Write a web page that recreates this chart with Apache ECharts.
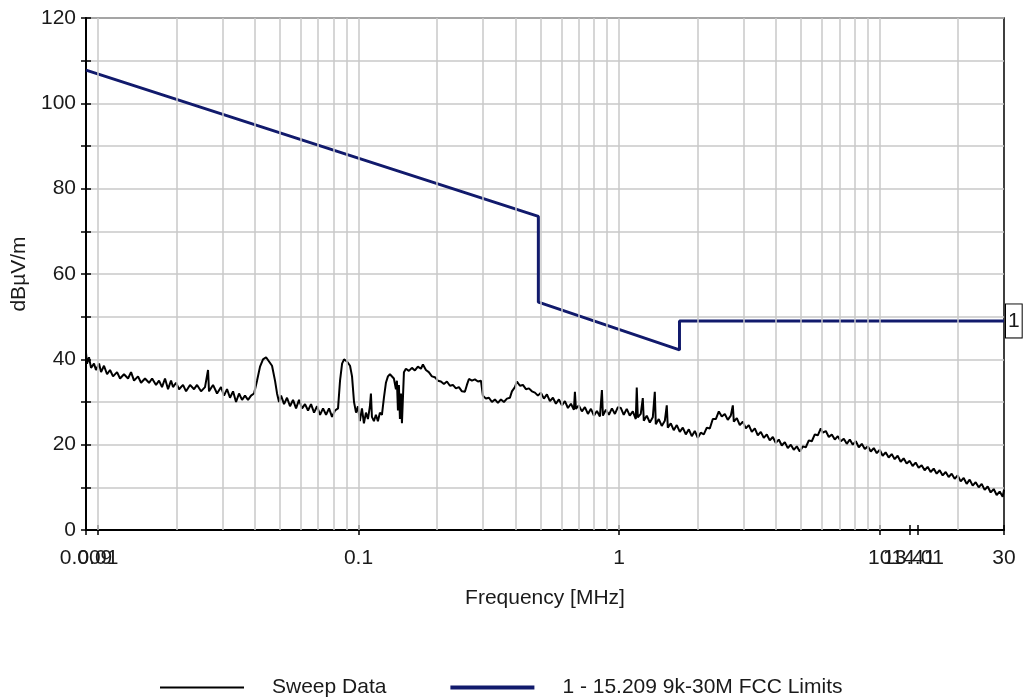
<!DOCTYPE html>
<html>
<head>
<meta charset="utf-8">
<script src="https://cdn.jsdelivr.net/npm/echarts@6/dist/echarts.min.js"></script>
<style>
  html, body { margin: 0; padding: 0; background: #fff; }
  #chart { width: 1029px; height: 698px; }
</style>
</head>
<body>
<div id="chart"></div>
<script>
// sweep trace (MHz / dBuV/m)
const sweepFreq = [
  0.0090, 0.00908, 0.00924, 0.00941, 0.00966, 0.00983, 0.0101, 0.01028, 0.01055, 0.01084,
  0.01113, 0.01143, 0.01184, 0.01216, 0.01259, 0.01305, 0.0134, 0.01376, 0.01425, 0.01464,
  0.01516, 0.01571, 0.01614, 0.01671, 0.01716, 0.01762, 0.01809, 0.01858, 0.01908, 0.01942,
  0.01994, 0.02048, 0.02121, 0.02179, 0.02257, 0.02338, 0.02401, 0.02487, 0.02576, 0.02646,
  0.02669, 0.02765, 0.02865, 0.02968, 0.03048, 0.03129, 0.03213, 0.033, 0.03389, 0.0348,
  0.03574, 0.03668, 0.03767, 0.03869, 0.03973, 0.04079, 0.04189, 0.04301, 0.04418, 0.04536,
  0.04657, 0.04782, 0.04868, 0.04955, 0.05044, 0.05179, 0.05317, 0.0546, 0.05607, 0.05759,
  0.05913, 0.06074, 0.06233, 0.06402, 0.06574, 0.06751, 0.06932, 0.07118, 0.07309, 0.07507,
  0.07707, 0.07914, 0.08126, 0.08345, 0.08494, 0.08649, 0.088, 0.09036, 0.09278, 0.09444,
  0.09612, 0.09785, 0.0995,
  0.1012, 0.1031, 0.1049, 0.1068, 0.1087, 0.1106, 0.1116, 0.1126,
  0.1146, 0.1166, 0.1187, 0.1208, 0.123, 0.1252, 0.1274, 0.1297, 0.132, 0.1343,
  0.1367, 0.1392, 0.1404, 0.1417, 0.1429, 0.1442, 0.1455, 0.1468, 0.1481, 0.1494,
  0.152, 0.1561, 0.1603, 0.1646, 0.169, 0.1736, 0.1767, 0.1814, 0.1861, 0.1913,
  0.1964, 0.2017, 0.2071, 0.2127, 0.2184, 0.2243, 0.2303, 0.2365, 0.2428, 0.2494,
  0.256, 0.2606, 0.2653, 0.2724, 0.2797, 0.2873, 0.295, 0.3002, 0.3083, 0.3166,
  0.3251, 0.3338, 0.3428, 0.352, 0.3614, 0.3712, 0.3811, 0.3879, 0.3983, 0.4054,
  0.4163, 0.4275, 0.439, 0.4508, 0.4629, 0.4753, 0.4881, 0.5012, 0.5147, 0.5285,
  0.5427, 0.5573, 0.5722, 0.5876, 0.6034, 0.6195, 0.6363, 0.6534, 0.6709, 0.6768,
  0.6828, 0.7006, 0.72, 0.7393, 0.7593, 0.7797, 0.8006, 0.8221, 0.8442, 0.8592,
  0.8669, 0.8901, 0.914, 0.9386, 0.9637, 0.9897,
  1.015, 1.042, 1.07, 1.099, 1.129, 1.159, 1.169, 1.18, 1.211, 1.233,
  1.244, 1.277, 1.312, 1.347, 1.371, 1.383, 1.42, 1.458, 1.498, 1.524,
  1.538, 1.579, 1.621, 1.665, 1.71, 1.756, 1.803, 1.852, 1.901, 1.952,
  2.005, 2.058, 2.114, 2.171, 2.229, 2.289, 2.351, 2.414, 2.478, 2.545,
  2.613, 2.683, 2.732, 2.756, 2.83, 2.906, 2.984, 3.064, 3.146, 3.231,
  3.318, 3.407, 3.498, 3.592, 3.688, 3.787, 3.89, 3.994, 4.101, 4.211,
  4.325, 4.441, 4.56, 4.682, 4.808, 4.937, 5.071, 5.207, 5.347, 5.49,
  5.638, 5.789, 5.944, 6.05, 6.213, 6.38, 6.551, 6.727, 6.908, 7.093,
  7.283, 7.479, 7.68, 7.887, 8.099, 8.316, 8.539, 8.77, 9.005, 9.245,
  9.494, 9.749,
  10.0, 10.27, 10.54, 10.83, 11.12, 11.42, 11.72, 12.04, 12.36, 12.69,
  13.04, 13.38, 13.74, 14.11, 14.49, 14.88, 15.28, 15.69, 16.12, 16.55,
  16.99, 17.45, 17.92, 18.4, 18.89, 19.4, 19.92, 20.46, 21.01, 21.57,
  22.15, 22.75, 23.36, 23.99, 24.63, 25.29, 25.97, 26.67, 27.39, 28.12,
  28.88, 29.65, 30
];
const sweepLevel = [
  41.5, 39, 40.5, 38, 39, 37.5, 39, 37, 38.5, 36.5,
  37.5, 36, 37, 35.5, 36.5, 35.5, 37, 35, 36, 34.5,
  35.5, 34.5, 35.5, 34, 35, 33.5, 35.5, 33, 35, 33.5,
  34.5, 33, 34, 32.5, 34, 33, 34, 32.5, 33.5, 37.5,
  32.5, 34, 32, 33.5, 31.5, 33, 31, 32.5, 30, 32,
  30.5, 31.5, 30.5, 31.5, 32, 35, 38.3, 40, 40.5, 39.5,
  38.5, 35, 32, 30, 31.5, 29.5, 31, 29, 30.5, 28.5,
  30.5, 28.5, 29.5, 28, 29.5, 27.5, 29, 27, 28.5, 27,
  28.5, 26.5, 28, 28.5, 35, 39, 40, 39.5, 38.5, 36,
  30, 27.5, 29,
  25.5, 28.5, 25, 27.5, 26, 29, 32, 26.5,
  25.5, 27, 25.5, 27.5, 27, 31, 34.5, 36, 36.5, 36.8,
  35.5, 33, 35, 28, 34, 26, 32, 25, 24.6, 37,
  37.8, 37.3, 38, 37.4, 38.3, 37.8, 38.8, 37.5, 37, 36,
  35.8, 35, 34.8, 34.2, 34.8, 33.8, 34, 33.2, 33.5, 32.5,
  32.4, 34, 35.4, 35, 35.3, 34.8, 35, 31.5, 30.8, 31,
  30, 30.6, 29.8, 30.6, 30, 30.8, 31, 32.5, 33.5, 34.8,
  33.8, 34, 33, 33.2, 32.5, 32.2, 31.5, 32.2, 30.8, 31.8,
  30.2, 31, 29.6, 30.6, 29.2, 30.2, 28.6, 29.6, 28.2, 32.4,
  28.4, 29.2, 27.8, 28.8, 27.2, 28.4, 26.8, 27.9, 26.6, 32.8,
  26.8, 28.2, 27, 28.5, 27.2, 28.8,
  28.6, 27.0, 28.4, 26.8, 27.8, 26.0, 33.4, 26.4, 27.2, 30.9,
  25.6, 26.8, 25.2, 26.4, 32.4, 24.8, 26.0, 24.4, 25.6, 29.2,
  24.0, 25.0, 23.4, 24.6, 23.0, 24.0, 22.4, 23.6, 22.0, 23.2,
  21.6, 22.8, 22.4, 24.0, 23.8, 26.0, 26.0, 27.8, 26.6, 27.2,
  25.8, 26.8, 29.2, 25.4, 26.2, 24.6, 25.4, 23.8, 24.6, 23.0,
  23.8, 22.2, 23.0, 21.6, 22.4, 21.0, 21.8, 20.4, 21.2, 19.8,
  20.6, 19.2, 20.0, 18.8, 19.6, 18.4, 19.6, 19.4, 21.0, 20.8,
  22.4, 22.2, 23.8, 22.8, 23.2, 21.8, 22.4, 21.2, 22.0, 20.8,
  21.4, 20.2, 21.2, 20.0, 20.8, 19.4, 20.2, 19.0, 19.6, 18.4,
  19.2, 18.0,
  18.8, 17.4, 18.2, 17.0, 17.8, 16.6, 17.4, 16.0, 16.8, 15.6,
  16.2, 15.0, 15.8, 14.6, 15.2, 14.0, 14.8, 13.6, 14.4, 13.2,
  14.0, 12.8, 13.6, 12.4, 13.2, 12.0, 12.8, 11.4, 12.2, 10.8,
  11.8, 10.4, 11.2, 10.0, 10.8, 9.4, 10.2, 8.8, 9.6, 8.2,
  9.0, 7.8, 9.4
];

// FCC 15.209 limit line corners
const limitFreq = [0.009, 0.49, 0.49, 1.705, 1.705, 30];
const limitLevel = [107.8, 73.5, 53.4, 42.2, 49, 49];

// vertical grid lines (1..9 per decade)
const gridFreq = [
  0.01, 0.02, 0.03, 0.04, 0.05, 0.06, 0.07, 0.08, 0.09,
  0.1, 0.2, 0.3, 0.4, 0.5, 0.6, 0.7, 0.8, 0.9,
  1, 2, 3, 4, 5, 6, 7, 8, 9,
  10, 20
];

// x ticks and their labels
const tickFreq = [0.009, 0.01, 0.1, 1, 10, 13, 14, 30];
const tickText = ['0.009', '0.01', '0.1', '1', '10', '13.41', '14.01', '30'];
// labels drawn on the main axis / on the helper axis (so the overlapping pair both show)
const labelFreqMain = [0.009, 0.1, 1, 10, 13, 14, 30];
const labelFreqExtra = [0.01];

const FONT = "'Liberation Sans', Arial, sans-serif";
const FSIZE = 21;
const TXT = '#1a1a1a';
const GRIDC = '#c8c8c8';
const NAVY = '#111a6c';

const chart = echarts.init(document.getElementById('chart'));

const sweepData = sweepFreq.map((f, i) => [f, sweepLevel[i]]);
const limitData = limitFreq.map((f, i) => [f, limitLevel[i]]);

function tickLabel(v) {
  const i = tickFreq.findIndex((t) => Math.abs(t - v) / t < 1e-6);
  return i >= 0 ? tickText[i] : '';
}

const labelStyle = { fontSize: FSIZE, fontFamily: FONT, color: TXT, margin: 18 };

const option = {
  animation: false,
  backgroundColor: '#fff',
  textStyle: { fontFamily: FONT },
  grid: {
    left: 86,
    right: 25,
    top: 18,
    bottom: 168,
    show: true,
    borderColor: '#000',
    borderWidth: 1.5,
    backgroundColor: 'transparent',
  },
  legend: {
    left: 154,
    top: 672,
    itemWidth: 84,
    itemHeight: 14,
    itemGap: 62,
    itemStyle: { opacity: 0 },
    textStyle: { fontSize: FSIZE, fontFamily: FONT, color: TXT, padding: [0, 0, 0, 23] },
    data: [
      { name: 'Sweep Data', lineStyle: { width: 2 } },
      { name: '1 - 15.209 9k-30M FCC Limits', lineStyle: { width: 4 } },
    ],
  },
  xAxis: [
    {
      type: 'log',
      logBase: 10,
      min: 0.009,
      max: 30,
      name: 'Frequency [MHz]',
      nameLocation: 'middle',
      nameGap: 58,
      nameTextStyle: { fontSize: FSIZE, fontFamily: FONT, color: TXT },
      axisLine: { show: true, lineStyle: { color: '#000', width: 2 } },
      axisTick: { show: true, length: 5, lineStyle: { color: '#000', width: 1.5 }, customValues: tickFreq },
      axisLabel: {
        ...labelStyle,
        showMinLabel: true,
        showMaxLabel: true,
        customValues: labelFreqMain,
        formatter: tickLabel,
      },
      splitLine: { show: false },
    },
    {
      // helper axis sitting on the bottom edge: upward tick halves + the 0.01 label
      type: 'log',
      logBase: 10,
      min: 0.009,
      max: 30,
      position: 'top',
      offset: -512,
      axisLine: { show: false },
      axisTick: { show: true, length: 5, lineStyle: { color: '#000', width: 1.5 }, customValues: tickFreq },
      axisLabel: {
        ...labelStyle,
        inside: true,
        customValues: labelFreqExtra,
        formatter: tickLabel,
      },
      splitLine: { show: false },
    },
  ],
  yAxis: [
    {
      type: 'value',
      min: 0,
      max: 120,
      interval: 10,
      name: 'dBµV/m',
      nameLocation: 'middle',
      nameGap: 49,
      nameTextStyle: { fontSize: FSIZE, fontFamily: FONT, color: TXT },
      axisLine: { show: true, lineStyle: { color: '#000', width: 2 } },
      axisTick: { show: true, length: 5, lineStyle: { color: '#000', width: 1.5 } },
      axisLabel: {
        fontSize: FSIZE,
        fontFamily: FONT,
        color: TXT,
        margin: 10,
        formatter: (v) => (v % 20 === 0 ? String(v) : ''),
      },
      splitLine: { show: true, lineStyle: { color: GRIDC, width: 1.5 } },
    },
    {
      // rightward half of the crossing ticks
      type: 'value',
      min: 0,
      max: 120,
      interval: 10,
      position: 'right',
      offset: -918,
      axisLine: { show: false },
      axisTick: { show: true, length: 5, lineStyle: { color: '#000', width: 1.5 } },
      axisLabel: { show: false },
      splitLine: { show: false },
    },
  ],
  series: [
    {
      type: 'line',
      z: 1,
      data: [],
      silent: true,
      markLine: {
        silent: true,
        symbol: ['none', 'none'],
        label: { show: false },
        lineStyle: { color: GRIDC, width: 1.5, type: 'solid' },
        emphasis: { disabled: true },
        data: gridFreq.map((f) => ({ xAxis: f })),
      },
    },
    {
      name: 'Sweep Data',
      type: 'line',
      z: 3,
      data: sweepData,
      symbol: 'none',
      sampling: null,
      lineStyle: { color: '#000', width: 2 },
      itemStyle: { color: '#000' },
    },
    {
      name: '1 - 15.209 9k-30M FCC Limits',
      type: 'line',
      z: 4,
      data: limitData,
      symbol: 'none',
      lineStyle: { color: NAVY, width: 3 },
      itemStyle: { color: NAVY },
      endLabel: {
        show: true,
        formatter: '1',
        fontSize: FSIZE,
        fontFamily: FONT,
        color: TXT,
        backgroundColor: '#fff',
        borderColor: '#000',
        borderWidth: 1,
        padding: [6, 2, 6, 2],
        distance: 2,
      },
    },
  ],
};

chart.setOption(option);
</script>
</body>
</html>
